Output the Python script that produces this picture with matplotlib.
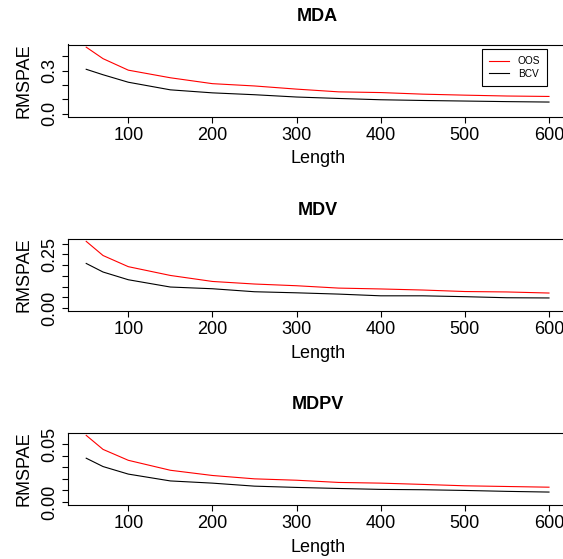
import matplotlib
matplotlib.use("Agg")
import matplotlib.pyplot as plt
import numpy as np

plt.rcParams['font.family'] = ['Liberation Sans', 'DejaVu Sans']

length = [50, 70, 100, 150, 200, 250, 300, 350, 400, 450, 500, 550, 600]

titles = ["MDA", "MDV", "MDPV"]

mda_oos = [0.464, 0.384, 0.304, 0.251, 0.210, 0.194, 0.172, 0.153, 0.148, 0.137, 0.130, 0.124, 0.121]
mda_bcv = [0.310, 0.272, 0.220, 0.167, 0.146, 0.133, 0.117, 0.107, 0.098, 0.093, 0.089, 0.085, 0.082]

mdv_oos = [0.311, 0.245, 0.193, 0.152, 0.124, 0.112, 0.104, 0.093, 0.089, 0.084, 0.077, 0.075, 0.070]
mdv_bcv = [0.208, 0.168, 0.132, 0.098, 0.090, 0.076, 0.071, 0.065, 0.057, 0.057, 0.053, 0.048, 0.047]

mdpv_oos = [0.0575, 0.0454, 0.0360, 0.0274, 0.0229, 0.0200, 0.0188, 0.0169, 0.0163, 0.0152, 0.0140, 0.0134, 0.0128]
mdpv_bcv = [0.0378, 0.0306, 0.0241, 0.0182, 0.0163, 0.0137, 0.0126, 0.0117, 0.0109, 0.0106, 0.0100, 0.0092, 0.0086]

x_ticks = [100, 200, 300, 400, 500, 600]
y_ticks = [
    [0.0, 0.1, 0.2, 0.3, 0.4],
    [0.0, 0.05, 0.10, 0.15, 0.20, 0.25, 0.30],
    [0.0, 0.01, 0.02, 0.03, 0.04, 0.05],
]
y_ticklabels = [
    ["0.0", "", "", "0.3", ""],
    ["0.00", "", "", "", "", "0.25", ""],
    ["0.00", "", "", "", "", "0.05"],
]

series = [(mda_oos, mda_bcv), (mdv_oos, mdv_bcv), (mdpv_oos, mdpv_bcv)]

W, H = 563, 559
fig = plt.figure(figsize=(W / 100, H / 100), dpi=100)

left_px, right_px = 67.7, 567.5
tops_px = [44.5, 238.7, 432.7]
h_px = 72.0
FS = 13

for i, (title, (oos, bcv)) in enumerate(zip(titles, series)):
    top = tops_px[i]
    ax = fig.add_axes([left_px / W, 1 - (top + h_px) / H,
                       (right_px - left_px) / W, h_px / H])
    ax.plot(length, oos, color='#ff0000', lw=0.8, label='OOS')
    ax.plot(length, bcv, color='black', lw=0.8, label='BCV')
    ax.set_xlim(28, 622)
    m = max(max(oos), max(bcv))
    ax.set_ylim(-0.04 * m, 1.04 * m)
    ax.set_xticks(x_ticks)
    ax.set_xticklabels([str(t) for t in x_ticks])
    ax.set_yticks(y_ticks[i])
    ax.set_yticklabels(y_ticklabels[i], rotation=90, va='center')
    for s in ax.spines.values():
        s.set_color('black')
        s.set_linewidth(0.8)
    ax.tick_params(axis='both', direction='out', length=4.1, width=0.8,
                   labelsize=FS, color='black')
    ax.tick_params(axis='x', pad=3.5)
    ax.tick_params(axis='y', pad=2.5)
    ax.set_title(title, fontsize=FS, fontweight='bold', pad=16.9)
    ax.set_xlabel('Length', fontsize=FS, va='baseline')
    ax.xaxis.set_label_coords(0.5, -(163.3 - 116.5) / h_px)
    ax.set_ylabel('RMSPAE', fontsize=FS, va='baseline')
    ax.yaxis.set_label_coords(-(left_px - 28.0) / (right_px - left_px), 0.5)
    if i == 0:
        leg = ax.legend(loc='upper right',
                        bbox_to_anchor=((547.3 - left_px) / (right_px - left_px),
                                        (top + h_px - 49.3) / h_px),
                        fontsize=7.3, frameon=True, fancybox=False,
                        edgecolor='black', framealpha=1,
                        handlelength=1.9, handletextpad=0.9,
                        labelspacing=0.25, borderpad=0.7, borderaxespad=0)
        leg.get_frame().set_linewidth(0.8)

fig.savefig('out.png', dpi=100)
